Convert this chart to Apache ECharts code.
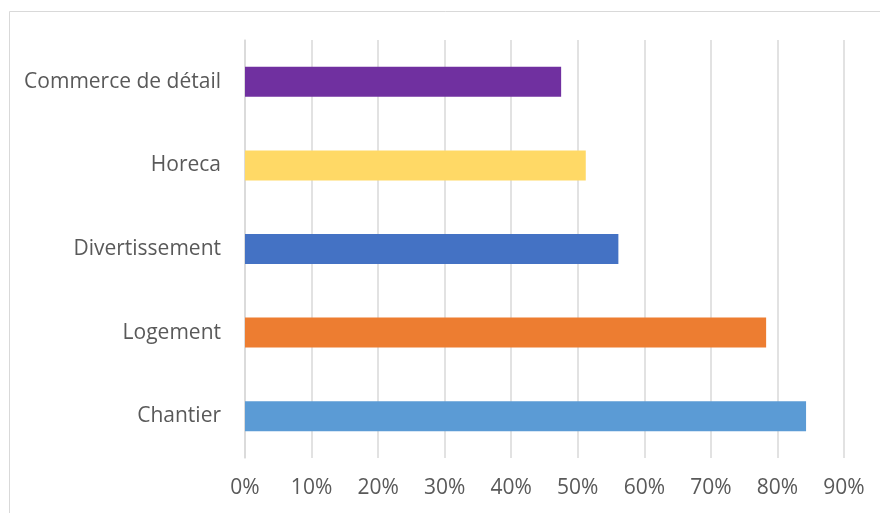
<!DOCTYPE html>
<html><head><meta charset="utf-8">
<script src="https://cdn.jsdelivr.net/npm/echarts@6/dist/echarts.min.js"></script>
<style>html,body{margin:0;padding:0;background:#fff}#c{width:880px;height:513px}</style>
</head><body><div id="c"></div>
<script>
var categories = ["Chantier", "Logement", "Divertissement", "Horeca", "Commerce de détail"];
var values = [0.843, 0.783, 0.561, 0.512, 0.475];
var colors = ["#5B9BD5", "#ED7D31", "#4472C4", "#FFD966", "#7030A0"];
var xTicks = [0, 0.1, 0.2, 0.3, 0.4, 0.5, 0.6, 0.7, 0.8, 0.9];

var chart = echarts.init(document.getElementById('c'), null, {renderer: 'canvas'});
var font = '"Open Sans", sans-serif';
chart.setOption({
  animation: false,
  graphic: [{
    type: 'rect', shape: {x: 9.5, y: 11.5, width: 900, height: 600},
    style: {fill: 'none', stroke: '#d9d9d9', lineWidth: 1}, z: -1
  }],
  grid: {left: 245, right: 36, top: 40, bottom: 55, containLabel: false},
  xAxis: {
    type: 'value', min: 0, max: xTicks[xTicks.length - 1], interval: 0.1,
    axisLine: {show: false}, axisTick: {show: false},
    splitLine: {show: true, lineStyle: {color: '#d9d9d9', width: 1.5}},
    axisLabel: {color: '#595959', fontFamily: font, fontSize: 21, margin: 20,
      formatter: function (v) { return Math.round(v * 100) + '%'; }}
  },
  yAxis: {
    type: 'category', data: categories,
    axisLine: {show: true, lineStyle: {color: '#d9d9d9', width: 1.5}},
    axisTick: {show: false},
    axisLabel: {color: '#595959', fontFamily: font, fontSize: 21, margin: 24}
  },
  series: [{
    type: 'bar', barWidth: 30,
    data: values.map(function (v, i) { return {value: v, itemStyle: {color: colors[i]}}; })
  }]
});
</script></body></html>
